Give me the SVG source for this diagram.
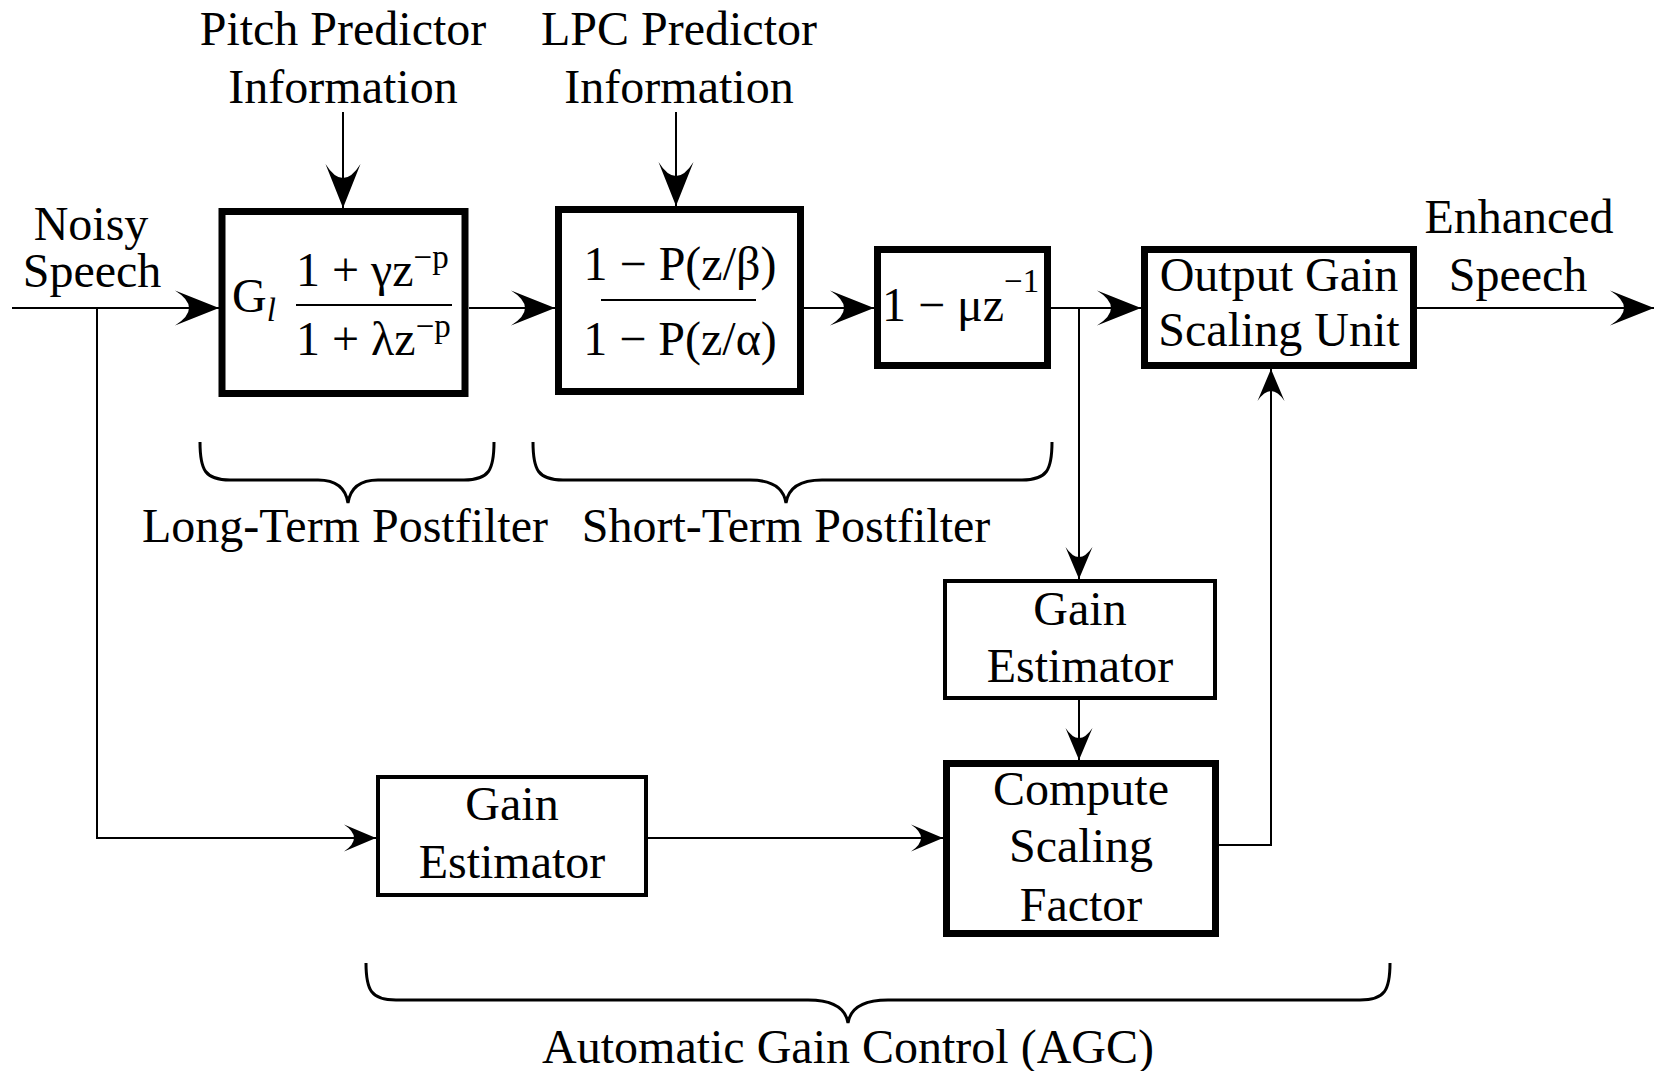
<svg xmlns="http://www.w3.org/2000/svg" width="1658" height="1071" viewBox="0 0 1658 1071">
<style>
text{font-family:"Liberation Serif","Times New Roman",serif;font-size:48px;fill:#000}
.c{text-anchor:middle}
.sup{font-size:33px}
.thick{fill:#fff;stroke:#000;stroke-width:7}
.thin{fill:#fff;stroke:#000;stroke-width:4}
.ln{fill:none;stroke:#000;stroke-width:2}
.br{fill:none;stroke:#000;stroke-width:3}
.big{marker-end:url(#ab)}
.sm{marker-end:url(#as)}
</style>
<defs>
<marker id="ab" viewBox="-46 -20 48 40" markerWidth="48" markerHeight="40" refX="0" refY="0" orient="auto" markerUnits="userSpaceOnUse">
<path d="M0,0 L-44,-17.5 Q-16,0 -44,17.5 Z" fill="#000"/>
</marker>
<marker id="as" viewBox="-34 -15 36 30" markerWidth="36" markerHeight="30" refX="0" refY="0" orient="auto" markerUnits="userSpaceOnUse">
<path d="M0,0 L-32,-13.5 Q-12,0 -32,13.5 Z" fill="#000"/>
</marker>
</defs>
<rect width="1658" height="1071" fill="#fff"/>

<g id="connectors">
<path class="ln big" d="M12,308 H219"/>
<path class="ln sm" d="M97,308 V838 H376"/>
<path class="ln big" d="M469,308 H555"/>
<path class="ln big" d="M804,308 H874"/>
<path class="ln big" d="M1051,308 H1141"/>
<path class="ln big" d="M1417,308 H1654"/>
<path class="ln sm" d="M1079,308 V579"/>
<path class="ln sm" d="M1079,700 V760"/>
<path class="ln sm" d="M648,838 H943"/>
<path class="ln sm" d="M1219,845 H1271 V369"/>
<path class="ln big" d="M343,112 V208"/>
<path class="ln big" d="M676,112 V206"/>
</g>

<g id="input-labels">
<text class="c" x="343" y="45">Pitch Predictor</text>
<text class="c" x="343" y="103">Information</text>
<text class="c" x="679" y="45">LPC Predictor</text>
<text class="c" x="679" y="103">Information</text>
<text class="c" x="91" y="240">Noisy</text>
<text class="c" x="92" y="287">Speech</text>
<text class="c" x="1519" y="233">Enhanced</text>
<text class="c" x="1518" y="291">Speech</text>
</g>

<g id="long-term-filter">
<rect class="thick" x="222" y="211.5" width="243" height="182"/>
<text x="232" y="312">G<tspan font-style="italic" font-size="33" dy="9">l</tspan></text>
<text x="296" y="286">1 + γz<tspan class="sup" dy="-18">−p</tspan></text>
<line class="ln" x1="296" y1="305" x2="452" y2="305"/>
<text x="296" y="355">1 + λz<tspan class="sup" dy="-18">−p</tspan></text>
</g>

<g id="short-term-filter">
<rect class="thick" x="558.5" y="209.5" width="242" height="182"/>
<text class="c" x="680" y="280">1 − P(z/β)</text>
<line class="ln" x1="601" y1="300" x2="756" y2="300"/>
<text class="c" x="680" y="355">1 − P(z/α)</text>
</g>

<g id="tilt-filter">
<rect class="thick" x="877.5" y="249.5" width="170" height="116"/>
<text x="882" y="321">1 − μz<tspan class="sup" dy="-29">−1</tspan></text>
</g>

<g id="output-gain">
<rect class="thick" x="1144.5" y="249.5" width="269" height="116"/>
<text class="c" x="1279" y="291">Output Gain</text>
<text class="c" x="1279" y="346">Scaling Unit</text>
</g>

<g id="gain-estimator-out">
<rect class="thin" x="945" y="581" width="270" height="117"/>
<text class="c" x="1080" y="625">Gain</text>
<text class="c" x="1080" y="682">Estimator</text>
</g>

<g id="compute-scaling">
<rect class="thick" x="946.5" y="763.5" width="269" height="170"/>
<text class="c" x="1081" y="805">Compute</text>
<text class="c" x="1081" y="862">Scaling</text>
<text class="c" x="1081" y="921">Factor</text>
</g>

<g id="gain-estimator-in">
<rect class="thin" x="378" y="777" width="268" height="118"/>
<text class="c" x="512" y="820">Gain</text>
<text class="c" x="512" y="878">Estimator</text>
</g>

<g id="brace-long">
<path class="br" d="M200,442 C200,470 205,480 230,480 L318,480 C338,480 346,490 348,503 C350,490 358,480 378,480 L464,480 C489,480 494,470 494,442"/>
<text class="c" x="345" y="542">Long-Term Postfilter</text>
</g>

<g id="brace-short">
<path class="br" d="M533,442 C533,470 538,480 563,480 L750,480 C774,480 784,490 786,503 C788,490 798,480 822,480 L1022,480 C1047,480 1052,470 1052,442"/>
<text class="c" x="786" y="542">Short-Term Postfilter</text>
</g>

<g id="brace-agc">
<path class="br" d="M366,963 C366,990 371,1000 396,1000 L808,1000 C836,1000 846,1010 848,1023 C850,1010 860,1000 888,1000 L1360,1000 C1385,1000 1390,990 1390,963"/>
<text class="c" x="848" y="1063">Automatic Gain Control (AGC)</text>
</g>
</svg>
